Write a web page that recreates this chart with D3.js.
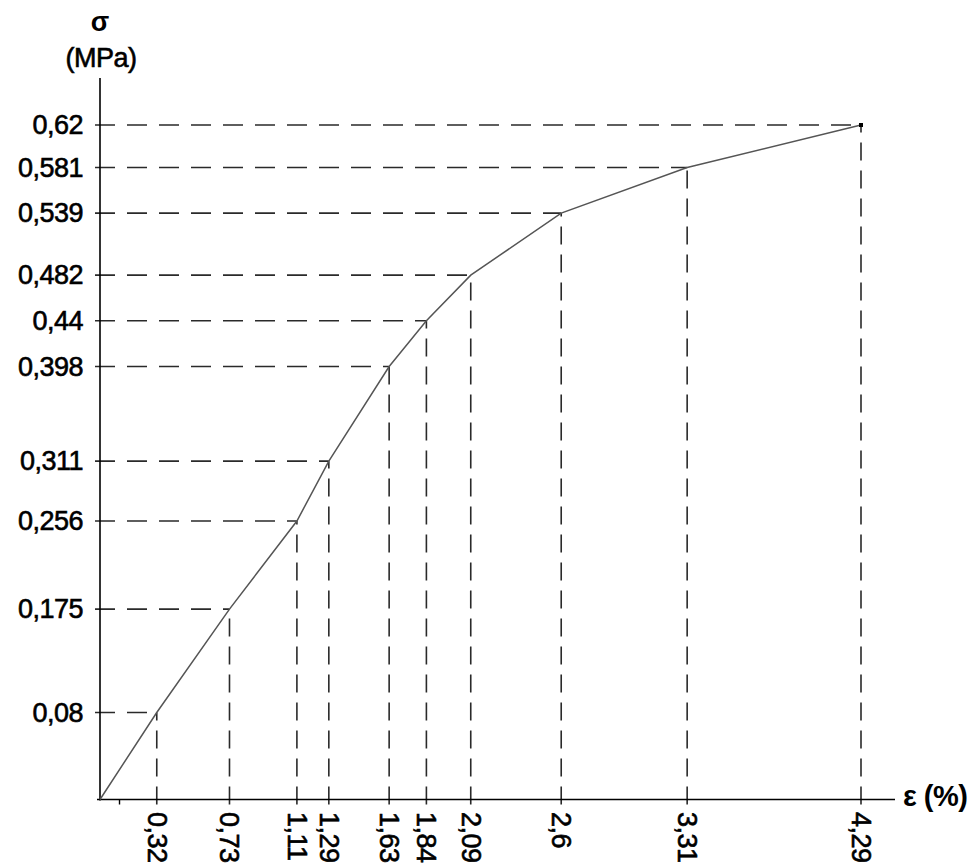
<!DOCTYPE html>
<html>
<head>
<meta charset="utf-8">
<script src="https://cdn.jsdelivr.net/npm/d3@7"></script>
<style>
  html, body { margin: 0; padding: 0; background: #fff; }
  svg { display: block; font-family: "Liberation Sans", Arial, sans-serif; }
</style>
</head>
<body>
<svg id="chart" width="975" height="865"></svg>
<script>
// ---- data ----
const strain = [0, 0.32, 0.73, 1.11, 1.29, 1.63, 1.84, 2.09, 2.6, 3.31, 4.29];
const stress = [0, 0.08, 0.175, 0.256, 0.311, 0.398, 0.44, 0.482, 0.539, 0.581, 0.62];
const xTickLabels = ["0,32", "0,73", "1,11", "1,29", "1,63", "1,84", "2,09", "2,6", "3,31", "4,29"];
const yTickLabels = ["0,08", "0,175", "0,256", "0,311", "0,398", "0,44", "0,482", "0,539", "0,581", "0,62"];
const minorTicks = [0.11];
const yTitle = ["σ", "(MPa)"];
const xTitle = "ε (%)";

const svg = d3.select("#chart");
const x = d3.scaleLinear().domain([0, 4.29]).range([100, 861]);
const y = d3.scaleLinear().domain([0, 0.62]).range([799.5, 125]);

const pts = strain.map((d, i) => ({ e: d, s: stress[i] })).slice(1);

// dashed guide lines
const g = svg.append("g");
g.selectAll(".hd").data(pts).join("line")
  .attr("x1", x(0) - 5).attr("x2", d => x(d.e))
  .attr("y1", d => y(d.s)).attr("y2", d => y(d.s))
  .attr("stroke", "#2a2a2a").attr("stroke-width", 1.6)
  .attr("stroke-dasharray", "20,12");
g.selectAll(".vd").data(pts).join("line")
  .attr("x1", d => x(d.e)).attr("x2", d => x(d.e))
  .attr("y1", y(0) + 5).attr("y2", d => y(d.s))
  .attr("stroke", "#2a2a2a").attr("stroke-width", 1.6)
  .attr("stroke-dasharray", "18,10");

// axes
svg.append("line").attr("x1", x(0)).attr("x2", x(0)).attr("y1", 78).attr("y2", y(0) + 1)
  .attr("stroke", "#000").attr("stroke-width", 1.6);
svg.append("line").attr("x1", x(0) - 3).attr("x2", 895).attr("y1", y(0)).attr("y2", y(0))
  .attr("stroke", "#000").attr("stroke-width", 1.6);
svg.selectAll(".mt").data(minorTicks).join("line")
  .attr("x1", d => x(d)).attr("x2", d => x(d))
  .attr("y1", y(0)).attr("y2", y(0) + 5)
  .attr("stroke", "#000").attr("stroke-width", 1.4);

// curve
svg.append("path")
  .datum(strain.map((d, i) => [d, stress[i]]))
  .attr("d", d3.line().x(d => x(d[0])).y(d => y(d[1])))
  .attr("fill", "none").attr("stroke", "#555").attr("stroke-width", 1.5);

// end marker
svg.append("rect").attr("x", x(4.29) - 2).attr("y", y(0.62) - 2)
  .attr("width", 4).attr("height", 4).attr("fill", "#000");

const labelStyle = sel => sel
  .attr("font-size", 27).attr("fill", "#000")
  .attr("letter-spacing", -0.5)
  .attr("stroke", "#000").attr("stroke-width", 0.6);

// y labels
svg.selectAll(".yl").data(pts).join("text")
  .attr("x", 83).attr("y", d => y(d.s) + 2)
  .attr("text-anchor", "end").attr("dominant-baseline", "middle")
  .call(labelStyle)
  .text((d, i) => yTickLabels[i]);

// x labels (rotated)
svg.selectAll(".xl").data(pts).join("text")
  .attr("transform", d => `translate(${x(d.e) - 2},${812}) rotate(90)`)
  .attr("text-anchor", "start").attr("dominant-baseline", "middle")
  .call(labelStyle)
  .text((d, i) => xTickLabels[i]);

// titles
svg.append("text").attr("x", 100).attr("y", 31).attr("text-anchor", "middle")
  .attr("font-size", 27).attr("font-weight", "bold").text(yTitle[0]);
svg.append("text").attr("x", 101).attr("y", 67).attr("text-anchor", "middle")
  .call(labelStyle).text(yTitle[1]);
svg.append("text").attr("x", 903).attr("y", 798).attr("dominant-baseline", "middle")
  .attr("font-size", 29).attr("font-weight", "bold").attr("letter-spacing", -0.5)
  .text(xTitle);
</script>
</body>
</html>
